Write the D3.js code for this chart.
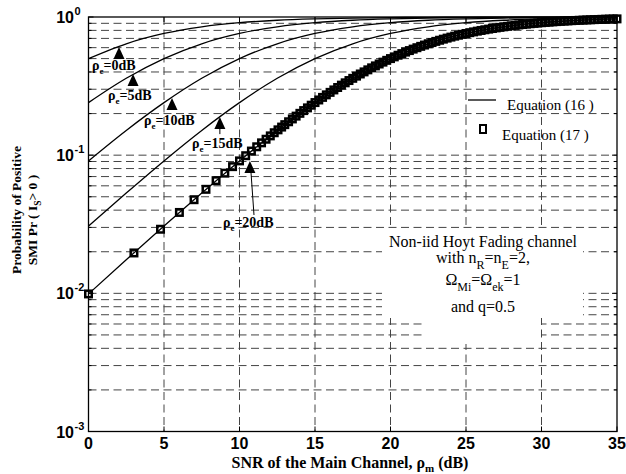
<!DOCTYPE html>
<html lang="en">
<head>
<meta charset="UTF-8">
<title>Probability of Positive SMI</title>
<script src="https://d3js.org/d3.v7.min.js"></script>
<style>
  body { margin: 0; background: #fff; }
  svg { display: block; }
  .tick-label { font-family: "Liberation Sans", Arial, sans-serif; font-weight: bold; fill: #000; }
  .serif { font-family: "Liberation Serif", "Times New Roman", serif; fill: #000; }
  .grid { stroke: #444; stroke-width: 1; stroke-dasharray: 8,4.5; fill: none; }
</style>
</head>
<body>
<svg width="626" height="474"></svg>
<script>
// SNR of the main channel (dB) where the curves were read
const snrDb = [0, 2.5, 5, 7.5, 10, 12.5, 15, 17.5, 20, 22.5, 25, 27.5, 30, 32.5, 35];

// Equation (16), one series per eavesdropper SNR
const prRhoE0  = [0.50, 0.640, 0.760, 0.849, 0.909, 0.947, 0.969, 0.983, 0.990, 0.994, 0.997, 0.998, 0.999, 0.9994, 0.9997];
const prRhoE5  = [0.240, 0.360, 0.50, 0.640, 0.760, 0.849, 0.909, 0.947, 0.969, 0.983, 0.990, 0.994, 0.997, 0.998, 0.999];
const prRhoE10 = [0.0909, 0.151, 0.240, 0.360, 0.50, 0.640, 0.760, 0.849, 0.909, 0.947, 0.969, 0.983, 0.990, 0.994, 0.997];
const prRhoE15 = [0.0307, 0.0532, 0.0909, 0.151, 0.240, 0.360, 0.50, 0.640, 0.760, 0.849, 0.909, 0.947, 0.969, 0.983, 0.990];
const prRhoE20 = [0.0099, 0.0175, 0.0307, 0.0532, 0.0909, 0.151, 0.240, 0.360, 0.50, 0.640, 0.760, 0.849, 0.909, 0.947, 0.969];

// Equation (17) markers (on the 20 dB curve)
const markerDb = [0, 3.01, 4.77, 6.02, 6.99, 7.78, 8.45, 9.03, 9.54, 10.00, 10.41, 10.79, 11.14, 11.46, 11.76, 12.04, 12.30, 12.55, 12.79,
  13.00, 13.25, 13.50, 13.75, 14.00, 14.25, 14.50, 14.75, 15.00, 15.25, 15.50, 15.75, 16.00, 16.25, 16.50, 16.75,
  17.00, 17.25, 17.50, 17.75, 18.00, 18.25, 18.50, 18.75, 19.00, 19.25, 19.50, 19.75, 20.00, 20.25, 20.50, 20.75,
  21.00, 21.25, 21.50, 21.75, 22.00, 22.25, 22.50, 22.75, 23.00, 23.25, 23.50, 23.75, 24.00, 24.25, 24.50, 24.75,
  25.00, 25.25, 25.50, 25.75, 26.00, 26.25, 26.50, 26.75, 27.00, 27.25, 27.50, 27.75, 28.00, 28.25, 28.50, 28.75,
  29.00, 29.25, 29.50, 29.75, 30.00, 30.25, 30.50, 30.75, 31.00, 31.25, 31.50, 31.75, 32.00, 32.25, 32.50, 32.75,
  33.00, 33.25, 33.50, 33.75, 34.00, 34.25, 34.50, 34.75, 35.00];
const markerPr = [0.0099, 0.0196, 0.0291, 0.0385, 0.0476, 0.0566, 0.0654, 0.0741, 0.0826, 0.0909, 0.0991, 0.1071, 0.1150, 0.1228, 0.1304, 0.1379, 0.1453, 0.1525, 0.1597,
  0.1663, 0.1745, 0.1829, 0.1917, 0.2008, 0.2102, 0.2199, 0.2299, 0.2403, 0.2509, 0.2619, 0.2732, 0.2848, 0.2966, 0.3088, 0.3212,
  0.3339, 0.3468, 0.3599, 0.3733, 0.3869, 0.4006, 0.4145, 0.4285, 0.4427, 0.4569, 0.4713, 0.4856, 0.5000, 0.5144, 0.5287, 0.5431,
  0.5573, 0.5715, 0.5855, 0.5994, 0.6131, 0.6267, 0.6401, 0.6532, 0.6661, 0.6788, 0.6912, 0.7034, 0.7152, 0.7268, 0.7381, 0.7491,
  0.7597, 0.7701, 0.7801, 0.7898, 0.7992, 0.8083, 0.8171, 0.8255, 0.8337, 0.8415, 0.8490, 0.8563, 0.8632, 0.8698, 0.8762, 0.8823,
  0.8882, 0.8938, 0.8991, 0.9042, 0.9091, 0.9137, 0.9182, 0.9224, 0.9264, 0.9302, 0.9339, 0.9373, 0.9407, 0.9438, 0.9468, 0.9496,
  0.9523, 0.9548, 0.9572, 0.9595, 0.9617, 0.9638, 0.9657, 0.9676, 0.9693];

const xTicks = [0, 5, 10, 15, 20, 25, 30, 35];
const yTickExp = [0, -1, -2, -3];

// curve labels: text, arrow tip (dB, Pr), label start (dB, Pr)
const labelText = ["0dB", "5dB", "10dB", "15dB", "20dB"];
const arrowDb = [2.02, 2.95, 5.53, 8.70, 10.69];
const arrowPr = [0.607, 0.387, 0.259, 0.189, 0.0907];
const labelDb = [0.23, 1.29, 3.67, 6.85, 8.90];
const labelPr = [0.413, 0.251, 0.165, 0.1127, 0.0302];

const margin = { top: 17, right: 9, bottom: 42.5, left: 88.5 };
const W = 626, H = 474;
const svg = d3.select("svg");

const x = d3.scaleLinear().domain([0, 35]).range([margin.left, W - margin.right]);
const y = d3.scaleLog().domain([1e-3, 1]).range([H - margin.bottom, margin.top]);

// grid
const gridG = svg.append("g");
gridG.selectAll("line.v")
  .data(xTicks.filter(d => d > 0 && d < 35))
  .enter().append("line")
  .attr("class", "grid")
  .attr("x1", d => x(d)).attr("x2", d => x(d))
  .attr("y1", y(1)).attr("y2", y(1e-3));
gridG.selectAll("line.h")
  .data(y.ticks().filter(d => d > 1e-3 && d < 1))
  .enter().append("line")
  .attr("class", "grid")
  .attr("x1", x(0)).attr("x2", x(35))
  .attr("y1", d => y(d)).attr("y2", d => y(d));

// white backing of the text note
svg.append("rect").attr("x", 382).attr("y", 229).attr("width", 201).attr("height", 89).attr("fill", "#fff");
svg.append("rect").attr("x", 424).attr("y", 317).attr("width", 117).attr("height", 27).attr("fill", "#fff");

// Equation (16) curves
const line = d3.line()
  .x(d => x(d[0]))
  .y(d => y(d[1]))
  .curve(d3.curveMonotoneX);
[prRhoE0, prRhoE5, prRhoE10, prRhoE15, prRhoE20].forEach(vals => {
  svg.append("path")
    .datum(snrDb.map((s, i) => [s, vals[i]]))
    .attr("d", line)
    .attr("fill", "none")
    .attr("stroke", "#000")
    .attr("stroke-width", 1.3);
});

// Equation (17) markers
const sq = 6.5;
svg.append("g").selectAll("rect")
  .data(markerDb.map((s, i) => [s, markerPr[i]]))
  .enter().append("rect")
  .attr("x", d => x(d[0]) - sq / 2)
  .attr("y", d => y(d[1]) - sq / 2)
  .attr("width", sq).attr("height", sq)
  .attr("fill", "none")
  .attr("stroke", "#000")
  .attr("stroke-width", 2.5);

// axes box and ticks
svg.append("rect")
  .attr("x", x(0)).attr("y", y(1))
  .attr("width", x(35) - x(0)).attr("height", y(1e-3) - y(1))
  .attr("fill", "none").attr("stroke", "#000").attr("stroke-width", 1.3);
xTicks.forEach(t => {
  svg.append("line").attr("x1", x(t)).attr("x2", x(t)).attr("y1", y(1e-3)).attr("y2", y(1e-3) - 5).attr("stroke", "#000");
  svg.append("line").attr("x1", x(t)).attr("x2", x(t)).attr("y1", y(1)).attr("y2", y(1) + 5).attr("stroke", "#000");
});
y.ticks().forEach(t => {
  const major = Math.abs(Math.log10(t) - Math.round(Math.log10(t))) < 1e-9;
  const len = major ? 5 : 3;
  svg.append("line").attr("x1", x(0)).attr("x2", x(0) + len).attr("y1", y(t)).attr("y2", y(t)).attr("stroke", "#000");
  svg.append("line").attr("x1", x(35)).attr("x2", x(35) - len).attr("y1", y(t)).attr("y2", y(t)).attr("stroke", "#000");
});

// tick labels
svg.selectAll("text.xt")
  .data(xTicks)
  .enter().append("text")
  .attr("class", "tick-label")
  .attr("x", d => x(d))
  .attr("y", y(1e-3) + 17)
  .attr("text-anchor", "middle")
  .attr("font-size", 16)
  .text(d => d);
yTickExp.forEach(e => {
  const yy = y(Math.pow(10, e));
  svg.append("text").attr("class", "tick-label")
    .attr("x", x(0) - 14.5).attr("y", yy + 6)
    .attr("text-anchor", "end").attr("font-size", 16)
    .text("10");
  svg.append("text").attr("class", "tick-label")
    .attr("x", x(0) - 14).attr("y", yy - 2)
    .attr("font-size", 11)
    .text(e);
});

// axis titles
const xt = svg.append("text").attr("class", "serif")
  .attr("x", 350).attr("y", 467.5)
  .attr("text-anchor", "middle")
  .attr("font-size", 16).attr("font-weight", "bold");
xt.append("tspan").text("SNR of the Main Channel, ρ");
xt.append("tspan").attr("dy", 4).attr("font-size", 11).text("m");
xt.append("tspan").attr("dy", -4).text(" (dB)");

svg.append("text").attr("class", "serif")
  .attr("transform", "translate(21,210) rotate(-90)")
  .attr("text-anchor", "middle")
  .attr("font-size", 13.5).attr("font-weight", "bold")
  .text("Probability of Positive");
const yt2 = svg.append("text").attr("class", "serif")
  .attr("transform", "translate(37,220) rotate(-90)")
  .attr("text-anchor", "middle")
  .attr("font-size", 13.5).attr("font-weight", "bold");
yt2.append("tspan").text("SMI Pr ( I");
yt2.append("tspan").attr("dy", 4).attr("font-size", 9.5).text("S");
yt2.append("tspan").attr("dy", -4).text("> 0 )");

// curve labels with arrows
labelText.forEach((t, i) => {
  const tx = x(arrowDb[i]), ty = y(arrowPr[i]);
  svg.append("path")
    .attr("d", `M${tx},${ty} L${tx - 5.5},${ty + 12} L${tx + 5.5},${ty + 12} Z`)
    .attr("fill", "#000");
  const lt = svg.append("text").attr("class", "serif")
    .attr("x", x(labelDb[i])).attr("y", y(labelPr[i]))
    .attr("font-size", 14).attr("font-weight", "bold");
  lt.append("tspan").text("ρ");
  lt.append("tspan").attr("dy", 4).attr("font-size", 9).text("e");
  lt.append("tspan").attr("dy", -4).text("=" + t);
});
// stems under the 15 dB and 20 dB arrows
svg.append("line")
  .attr("x1", x(8.70)).attr("x2", x(8.70))
  .attr("y1", y(0.189) + 12).attr("y2", y(0.142))
  .attr("stroke", "#000").attr("stroke-width", 1);
svg.append("line")
  .attr("x1", x(10.76)).attr("x2", x(10.96))
  .attr("y1", y(0.0755)).attr("y2", y(0.0369))
  .attr("stroke", "#000").attr("stroke-width", 1);

// legend
svg.append("line").attr("x1", 468).attr("x2", 496).attr("y1", 100).attr("y2", 100)
  .attr("stroke", "#000").attr("stroke-width", 1.3);
svg.append("text").attr("class", "serif").attr("x", 507).attr("y", 110).attr("font-size", 15).text("Equation (16 )");
svg.append("rect").attr("x", 483 - 3).attr("y", 129 - 4).attr("width", 6).attr("height", 8)
  .attr("fill", "none").attr("stroke", "#000").attr("stroke-width", 2);
svg.append("text").attr("class", "serif").attr("x", 502).attr("y", 140).attr("font-size", 15).text("Equation (17 )");

// note
svg.append("text").attr("class", "serif").attr("text-anchor", "middle").attr("font-size", 16)
  .attr("x", 483).attr("y", 247).text("Non-iid Hoyt Fading channel");
const l2 = svg.append("text").attr("class", "serif").attr("text-anchor", "middle").attr("font-size", 16)
  .attr("x", 483).attr("y", 263);
l2.append("tspan").text("with n");
l2.append("tspan").attr("dy", 6).attr("font-size", 12).text("R");
l2.append("tspan").attr("dy", -6).text("=n");
l2.append("tspan").attr("dy", 6).attr("font-size", 12).text("E");
l2.append("tspan").attr("dy", -6).text("=2,");
const l3 = svg.append("text").attr("class", "serif").attr("text-anchor", "middle").attr("font-size", 16)
  .attr("x", 483).attr("y", 285);
l3.append("tspan").text("Ω");
l3.append("tspan").attr("dy", 6).attr("font-size", 12).text("Mi");
l3.append("tspan").attr("dy", -6).text("=Ω");
l3.append("tspan").attr("dy", 6).attr("font-size", 12).text("ek");
l3.append("tspan").attr("dy", -6).text("=1");
svg.append("text").attr("class", "serif").attr("text-anchor", "middle").attr("font-size", 16)
  .attr("x", 483).attr("y", 312).text("and q=0.5");
</script>
</body>
</html>
